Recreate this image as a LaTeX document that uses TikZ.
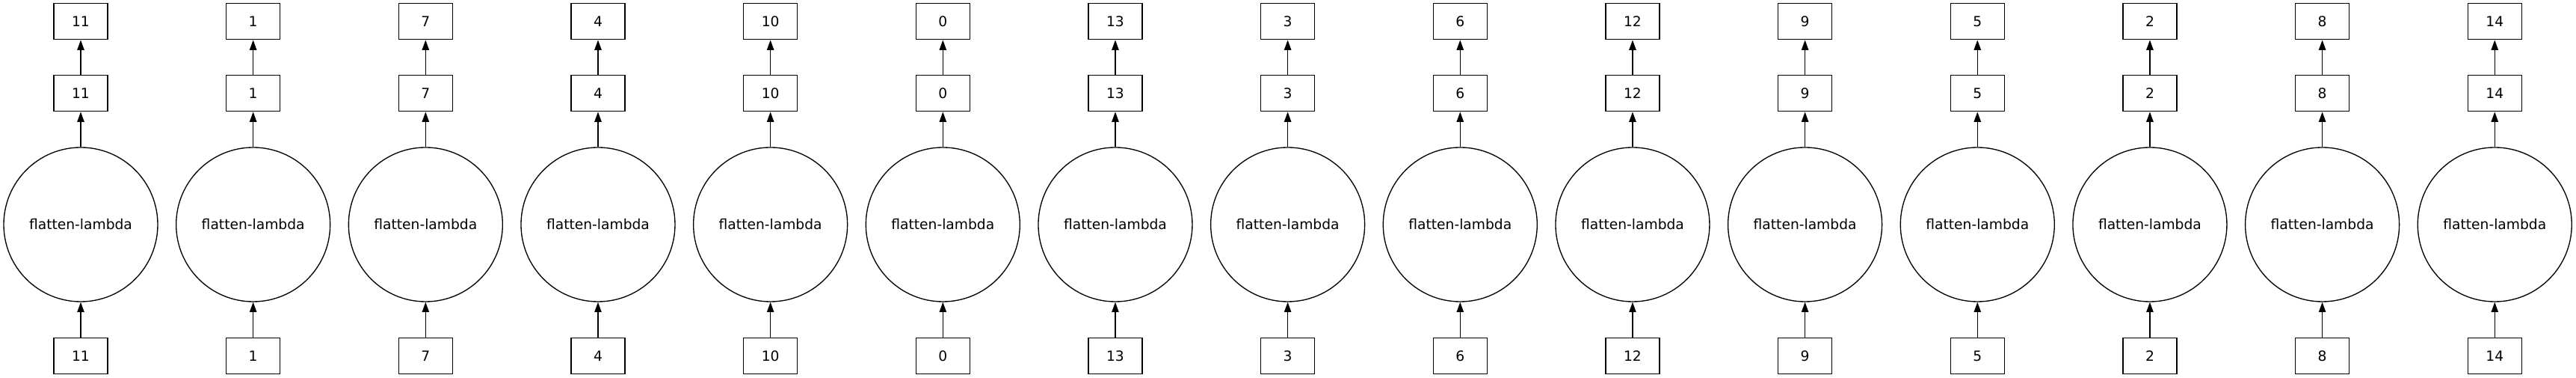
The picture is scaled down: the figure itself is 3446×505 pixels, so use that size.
\documentclass[tikz,border=0pt]{standalone}
\usepackage{fontspec}
\setmainfont{DejaVu Sans}
\usetikzlibrary{arrows.meta}
\begin{document}
\begin{tikzpicture}[x=0.75pt,y=0.75pt,
  valbox/.style={draw, line width=1pt, rectangle, minimum width=54pt, minimum height=36pt, inner sep=0pt, font=\fontsize{14pt}{16pt}\selectfont},
  fnode/.style={draw, line width=1pt, circle, minimum size=154.5pt, inner sep=0pt, font=\fontsize{14pt}{16pt}\selectfont},
  conn/.style={line width=1pt, -{Triangle[length=10pt,width=7pt]}}]
\useasboundingbox (0,0) rectangle (3446,505);
\foreach \v [count=\i from 0] in {11,1,7,4,10,0,13,3,6,12,9,5,2,8,14} {
  \pgfmathsetmacro{\cx}{108+\i*230.66}
  \node[valbox] (in\i) at (\cx,29.5) {\v};
  \node[fnode] (f\i) at (\cx,205) {flatten-lambda};
  \node[valbox] (mid\i) at (\cx,380.2) {\v};
  \node[valbox] (out\i) at (\cx,476.2) {\v};
  \draw[conn] (in\i) -- (f\i);
  \draw[conn] (f\i) -- (mid\i);
  \draw[conn] (mid\i) -- (out\i);
}
\end{tikzpicture}
\end{document}
